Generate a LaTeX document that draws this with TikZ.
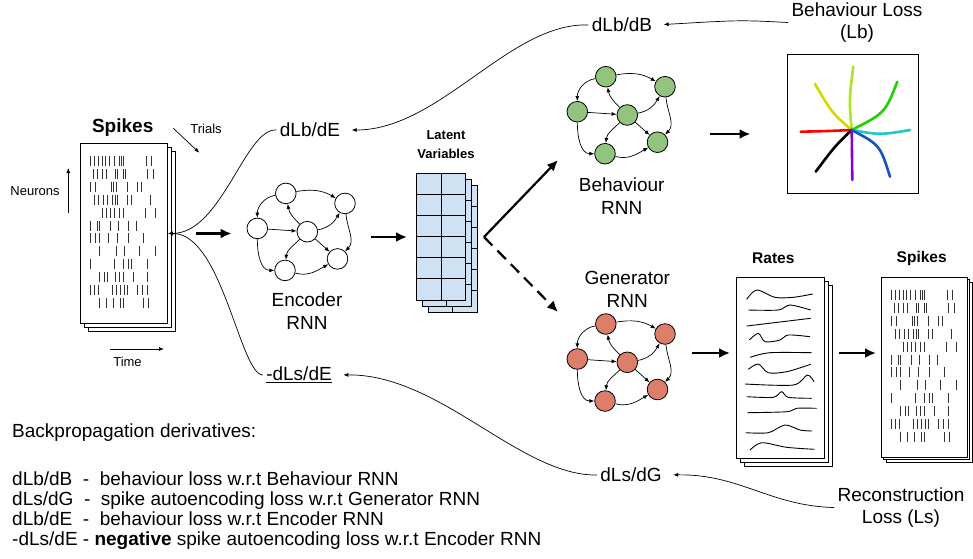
\documentclass[tikz,border=0pt]{standalone}
\usepackage{fontspec}
\setmainfont{Liberation Sans}
\usetikzlibrary{arrows.meta}
\definecolor{bgreen}{HTML}{93C47D}
\definecolor{gred}{HTML}{DD7E6B}
\definecolor{lblue}{HTML}{CFE2F3}
\definecolor{rlime}{HTML}{AAE61E}
\definecolor{ryellow}{HTML}{D7D700}
\definecolor{rgreen}{HTML}{1ED200}
\definecolor{rcyan}{HTML}{1EC8C8}
\definecolor{rpurple}{HTML}{8000E6}
\definecolor{rblue}{HTML}{1450C8}

\begin{document}
\begin{tikzpicture}[x=1pt,y=-1pt,
  font=\fontsize{19}{22.5}\selectfont,
  neuron/.style={circle,draw,line width=0.8pt,minimum size=20.6pt,inner sep=0pt},
  page/.style={draw,fill=white,line width=1pt,inner sep=0pt,anchor=north west},
  link/.style={-{Latex[length=5pt,width=4pt]},line width=0.7pt},
  flow/.style={-{Latex[length=11pt,width=10pt]},line width=2.2pt},
  spiketick/.style={line width=0.8pt,black!80},
  rate/.style={line width=0.9pt},
  ray/.style={line width=2.6pt,line cap=round},
  heading/.style={font=\fontsize{#1}{19}\selectfont\bfseries},
  smalltext/.style={font=\fontsize{13}{15}\selectfont}]
  \useasboundingbox (0,0) rectangle (973,558);

  \foreach \d in {8,4} \draw[fill=white,line width=1pt] (80+\d,143+\d) rectangle +(87,180);
  \node[page,minimum width=87pt,minimum height=180pt] (spk) at (80,143) {};
  \foreach \d in {8,4} \draw[fill=white,line width=1pt] (736+\d,277+\d) rectangle +(88,181);
  \node[page,minimum width=88pt,minimum height=181pt] (rat) at (736,277) {};
  \foreach \d in {5,2.5} \draw[fill=white,line width=1pt] (881+\d,277+\d) rectangle +(86,180);
  \node[page,minimum width=86pt,minimum height=180pt] (spo) at (881,277) {};

  \foreach \px/\py in {80/143,881/277}
    \foreach \row [count=\r] in {{10,14,18,22,25,29,34,39,41,43,66,71},
        {13,17,22,26,35,37,43,45,67,73},{10,15,31,33,36,47,57,61},
        {14,18,23,27,32,35,37,47,51,70},{22,26,30,34,39,43,65,75},
        {10,17,19,30,38,48,56},{10,15,19,28,37,48,63},{19,36,44,59,75},
        {10,34,43,48,51,67},{19,24,27,35,39,43,53,67},
        {10,14,18,32,36,40,44,47,57,62,67},{19,26,33,40,43,63,68}}
      \foreach \t in \row
        \draw[spiketick] (\px+\t,\py+0.1+12.9*\r) -- +(0,10);

  \draw[rate] plot[smooth] coordinates {(746.7,299.3) (756.7,290) (775,297.3) (793.3,297.3) (812.7,294)};
  \draw[rate] plot[smooth] coordinates {(748.3,310) (778.3,310) (790,305) (810.7,310)};
  \draw[rate] (746.7,326) -- (810.7,318.3);
  \draw[rate] plot[smooth] coordinates {(749.3,340) (758.3,333.3) (765,341.7) (780,340) (788.3,335) (810,336.7)};
  \draw[rate] plot[smooth] coordinates {(750,357.3) (770,352.7) (811.7,352.7)};
  \draw[rate] plot[smooth] coordinates {(748.3,369.3) (758.3,364) (768.3,372.7) (786.7,371.7) (810.7,364.3)};
  \draw[rate] plot[smooth] coordinates {(745,384) (793.3,385) (807.3,375) (814,381.7)};
  \draw[rate] plot[smooth] coordinates {(746.7,396.7) (773.3,397.3) (781.7,391.7) (788.3,397.3) (811.7,398.3)};
  \draw[rate] plot[smooth] coordinates {(747.3,412.7) (786.7,411.7) (796.7,408.3) (816.7,408.3)};
  \draw[rate] plot[smooth] coordinates {(745.7,432.7) (768.3,432.7) (785,425) (800,430) (812,431)};
  \draw[rate] plot[smooth] coordinates {(750,450) (761.7,442.7) (786.7,447.3) (814.3,449.3)};

  \foreach \d in {12,6} {
    \draw[fill=lblue,line width=1pt] (416+\d,173+\d) rectangle +(49,127);
    \draw[line width=1pt] (440.5+\d,173+\d) -- +(0,127);
    \foreach \k in {1,...,5} \draw[line width=1pt] (416+\d,173+\d+21.17*\k) -- +(49,0);
  }
  \node[draw,fill=lblue,line width=1pt,minimum width=49pt,minimum height=127pt,
        inner sep=0pt,anchor=north west] (lat) at (416,173) {};
  \draw[line width=1pt] (lat.north) -- (lat.south);
  \foreach \k in {1,...,5} \draw[line width=1pt] (lat.north west) ++(0,21.17*\k) -- ++(49,0);

  \foreach \n/\x/\y/\c in {enc/307.3/231.7/white,beh/627.3/115/bgreen,gen/627.3/362.3/gred}{
    \begin{scope}[shift={(\x,\y)}]
      \node[neuron,fill=\c] (\n-a) at (-21.5,-38.3) {};
      \node[neuron,fill=\c] (\n-b) at (37.7,-28.3) {};
      \node[neuron,fill=\c] (\n-c) at (-50,-3.3) {};
      \node[neuron,fill=\c] (\n-d) at (0,0) {};
      \node[neuron,fill=\c] (\n-e) at (30.2,27.2) {};
      \node[neuron,fill=\c] (\n-f) at (-22.3,38.7) {};
    \end{scope}
    \draw[link] (\n-a) to[out=10,in=150] (\n-b);
    \draw[link] (\n-a) to[out=190,in=90] (\n-c);
    \draw[link] (\n-d) to[out=135,in=-80] (\n-a);
    \draw[link] (\n-c) -- (\n-d);
    \draw[link] (\n-d) to[out=10,in=-120] (\n-b);
    \draw[link] (\n-d) -- (\n-e);
    \draw[link] (\n-b) to[out=-85,in=45] (\n-e);
    \draw[link] (\n-d) to[out=-135,in=85] (\n-f);
    \draw[link] (\n-c) to[out=-90,in=180] (\n-f);
    \draw[link] (\n-f) to[out=-15,in=-150] (\n-e);
  }

  \node[draw,line width=1pt,minimum width=131pt,minimum height=139pt,inner sep=0pt] (lossbox) at (852.5,123.5) {};
  \coordinate (hub) at (851.7,130);
  \draw[ray,rlime] (hub) .. controls (849,100) .. (853.3,66.7);
  \draw[ray,ryellow] (hub) .. controls (832,113) .. (815,84);
  \draw[ray,rgreen] (hub) .. controls (885,113) .. (897.3,81.7);
  \draw[ray,red] (hub) .. controls (830,131) .. (800.7,131.7);
  \draw[ray,rcyan] (hub) .. controls (880,135) .. (910,130);
  \draw[ray,black] (hub) .. controls (835,146) .. (815.7,171.7);
  \draw[ray,rpurple] (hub) -- (852.3,180);
  \draw[ray,rblue] (hub) .. controls (880,145) .. (890,176.7);

  \node[heading=19] (spkt) at (122.7,127.3) {Spikes};
  \node[smalltext] (trials) at (206,129) {Trials};
  \node[smalltext] (neurons) at (35,191) {Neurons};
  \node[smalltext] (time) at (127.5,362) {Time};
  \draw[link] ([shift={(-32.7,-0.7)}]trials.center) -- ++(26,24.4);
  \draw[link] ([shift={(33.3,22)}]neurons.center) -- ++(0,-45);
  \draw[link] ([shift={(-17.5,-13)}]time.center) -- ++(54,0);
  \node[heading=13,align=center] (latt) at (446,145) {Latent\\Variables};
  \node[heading=15.5] (ratt) at (773.3,258.3) {Rates};
  \node[heading=15.5] (spot) at (921.7,258.3) {Spikes};
  \node[align=center] (enct) at (307,311) {Encoder\\RNN};
  \node[align=center] (beht) at (621.7,196) {Behaviour\\RNN};
  \node[align=center] (gent) at (627.3,289.5) {Generator\\RNN};
  \node[align=center] (blt) at (857,22.5) {Behaviour Loss\\(Lb)};
  \node[align=center] (rlt) at (901,507.5) {Reconstruction\\Loss (Ls)};
  \node (dLbdB) at (622,25) {dLb/dB};
  \node (dLbdE) at (310,130) {dLb/dE};
  \node (mdLsdE) at (299,375) {\underline{-dLs/dE}};
  \node (dLsdG) at (631,475) {dLs/dG};

  \draw[flow,shorten <=28pt,shorten >=15pt] (spk.east) -- (spk.east -| enc-c.west);
  \draw[flow,shorten <=15pt,shorten >=9pt] (enc-b.east |- lat.west) -- (lat.west);
  \coordinate (split) at ([xshift=18pt]lat.east);
  \coordinate (tobeh) at (558,160);
  \coordinate (togen) at (558,312);
  \draw[flow] (split) -- (tobeh);
  \draw[flow,dash pattern=on 12pt off 7pt] (split) -- (togen);
  \coordinate (bout) at (710,134);
  \draw[flow,shorten >=36pt] (bout) -- (bout -| lossbox.west);
  \coordinate (gout) at (692,353);
  \draw[flow,shorten >=6pt] (gout) -- (gout -| rat.west);
  \draw[flow,shorten <=14pt,shorten >=5pt] (gout -| rat.east) -- (gout -| spo.west);

  \draw[link] (dLbdE.west) .. controls (245,128) and (222,233) .. (spk.east);
  \draw[link] (mdLsdE.west) .. controls (240,374) and (222,233) .. (spk.east);
  \draw[link,shorten >=8pt] (dLbdB.west) .. controls (510,22) and (440,130) .. (dLbdE.east);
  \draw[link,shorten >=8pt] (blt.west) .. controls (740,20) .. (dLbdB.east);
  \draw[link,shorten >=8pt] (rlt.west) .. controls (770,506) and (740,474) .. (dLsdG.east);
  \draw[link,shorten >=8pt] (dLsdG.west) .. controls (520,476) and (440,374) .. (mdLsdE.east);

  \node[anchor=base west,inner sep=0pt] (bph) at (12,437) {Backpropagation derivatives:};
  \foreach \txt [count=\i] in {dLb/dB\ \ -\ \ behaviour loss w.r.t Behaviour RNN,
      dLs/dG\ \ -\ \ spike autoencoding loss w.r.t Generator RNN,
      dLb/dE\ \ -\ \ behaviour loss w.r.t Encoder RNN,
      -dLs/dE - \textbf{negative} spike autoencoding loss w.r.t Encoder RNN}
    \node[anchor=base west,inner sep=0pt] (leg\i) at (12,465+20*\i) {\txt};
\end{tikzpicture}
\end{document}
